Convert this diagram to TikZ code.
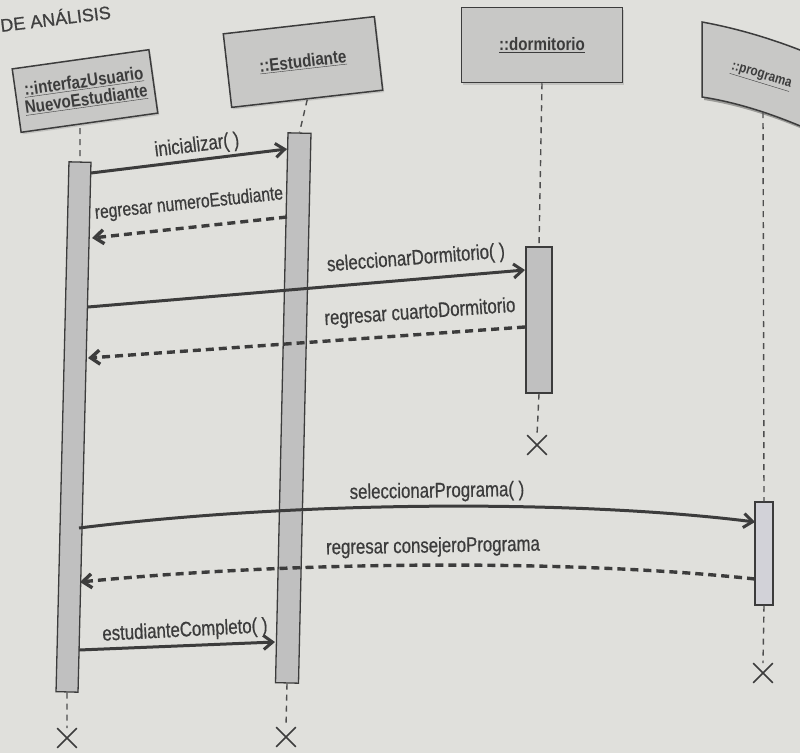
\documentclass[tikz,border=0pt]{standalone}
\usepackage{fontspec}
\setmainfont{Liberation Sans}
\newfontfamily\labelfont[FakeStretch=0.8,FakeBold=0.6]{Liberation Sans}
\newfontfamily\objfont[FakeStretch=0.84]{Liberation Sans}
\newfontfamily\headfont[FakeBold=0.8]{Liberation Sans}
\usetikzlibrary{arrows.meta,shadows,shapes.misc}

\definecolor{paper}{RGB}{224,224,220}
\definecolor{ink}{RGB}{78,78,78}
\definecolor{inkdark}{RGB}{60,60,60}
\definecolor{boxgray}{RGB}{200,200,198}
\definecolor{bargray}{RGB}{192,192,192}
\definecolor{barpale}{RGB}{210,210,216}

\tikzset{
  objbox/.style={draw=inkdark, line width=1.5pt, fill=boxgray, inner sep=0pt,
    align=center, text=inkdark,
    font=\objfont\bfseries\fontsize{18}{21}\selectfont,
    drop shadow={shadow xshift=1.5pt, shadow yshift=-2pt, opacity=0.3}},
  actbar/.style={draw=inkdark, line width=1.3pt, fill=bargray, inner sep=0pt},
  lifeline/.style={draw=ink, line width=1.4pt, dash pattern=on 6pt off 5pt},
  endmark/.style={cross out, draw=inkdark, line width=1.6pt, minimum size=18pt, inner sep=0pt},
  call/.style={draw=inkdark, line width=3pt, -{Straight Barb[length=9pt,width=14pt]}},
  reply/.style={draw=inkdark, line width=3.4pt, dash pattern=on 8pt off 5pt,
    -{Straight Barb[length=9pt,width=14pt]}},
  msg/.style={text=inkdark, inner sep=0pt, font=\labelfont\fontsize{21}{24}\selectfont},
}

\begin{document}
\begin{tikzpicture}[x=1pt,y=-1pt]
  % page
  \fill[paper] (0,0) rectangle (800,753);
  \useasboundingbox (0,0) rectangle (800,753);

  % running head
  \node[anchor=base west, inner sep=0pt, text=black!75, rotate=7,
        font=\headfont\fontsize{18}{20}\selectfont] (head) at (1,32) {DE ANÁLISIS};

  % objects
  \node[objbox, minimum width=138pt, minimum height=64pt, rotate=8] (ui) at (85,91)
    {\underline{::interfazUsuario}\\[-3pt]\underline{NuevoEstudiante}};
  \node[objbox, minimum width=152pt, minimum height=74pt, rotate=6.5] (est) at (303,62)
    {\underline{::Estudiante}};
  \node[objbox, minimum width=161pt, minimum height=75pt] (dorm) at (542,45)
    {\underline{::dormitorio}};
  % the programa object runs off the right edge
  \fill[black, opacity=0.3] (704,25) .. controls (737,31) and (772,41) .. (807,55)
    -- (807,131) .. controls (772,116) and (737,105) .. (704,100) -- cycle;
  \filldraw[draw=inkdark, line width=1.5pt, fill=boxgray]
    (702,22) .. controls (735,28) and (770,38) .. (805,52)
    -- (805,128) .. controls (770,113) and (735,102) .. (702,97) -- cycle;
  \node[text=inkdark, font=\objfont\bfseries\fontsize{14}{16}\selectfont, rotate=-17]
    (prog) at (761,77) {\underline{::programa}};

  % activation bars
  \node[actbar, minimum width=22pt, minimum height=530pt, rotate=-1.4] (b1) at (73.5,427) {};
  \node[actbar, minimum width=23pt, minimum height=550pt, rotate=-1.3] (b2) at (293.25,408) {};
  \node[actbar, minimum width=26pt, minimum height=146pt] (b3) at (539,320) {};
  \node[actbar, fill=barpale, minimum width=18pt, minimum height=103pt] (b4) at (764,553.5) {};

  % destruction marks
  \node[endmark] (e1) at (67,738) {};
  \node[endmark] (e2) at (286,737) {};
  \node[endmark] (e3) at (537,445) {};
  \node[endmark] (e4) at (763,673) {};

  % lifelines
  \coordinate (uifoot) at (80,128);
  \coordinate (progfoot) at (763,112);
  \draw[lifeline] (uifoot) -- (b1.north);
  \draw[lifeline] (est.south) -- (b2.north);
  \draw[lifeline] (dorm.south) -- (b3.north);
  \draw[lifeline] (progfoot) -- (b4.north);
  \draw[lifeline] (b1.south) -- (e1.north);
  \draw[lifeline] (b2.south) -- (e2.north);
  \draw[lifeline] (b3.south) -- (e3.north);
  \draw[lifeline] (b4.south) -- (e4.north);

  % message end points
  \coordinate (m1a) at (91,173);  \coordinate (m1b) at (287,149);
  \coordinate (m2a) at (287,217); \coordinate (m2b) at (92,238);
  \coordinate (m3a) at (88,307);  \coordinate (m3b) at (525,270);
  \coordinate (m4a) at (525,327); \coordinate (m4b) at (88,358);
  \coordinate (m5a) at (79,528);  \coordinate (m5b) at (755,522);
  \coordinate (m6a) at (755,579); \coordinate (m6b) at (80,582);
  \coordinate (m7a) at (79,650);  \coordinate (m7b) at (275,642);

  % messages
  \draw[call]  (m1a) -- (m1b);
  \draw[reply] (m2a) -- (m2b);
  \draw[call]  (m3a) -- (m3b);
  \draw[reply] (m4a) -- (m4b);
  \draw[call]  (m5a) .. controls (305,500) and (580,500) .. (m5b);
  \draw[reply] (m6a) .. controls (580,560) and (305,560) .. (m6b);
  \draw[call]  (m7a) -- (m7b);

  % message labels
  \node[msg, rotate=7]   (l1) at (197,146) {inicializar( )};
  \node[msg, rotate=6, font=\labelfont\fontsize{19.5}{22}\selectfont]
                         (l2) at (189,204) {regresar numeroEstudiante};
  \node[msg, rotate=4.5] (l3) at (416,259) {seleccionarDormitorio( )};
  \node[msg, rotate=4]   (l4) at (420,313) {regresar cuartoDormitorio};
  \node[msg, rotate=1]   (l5) at (437,492) {seleccionarPrograma( )};
  \node[msg, rotate=1]   (l6) at (433,547) {regresar consejeroPrograma};
  \node[msg, rotate=3]   (l7) at (185,631) {estudianteCompleto( )};
\end{tikzpicture}
\end{document}
